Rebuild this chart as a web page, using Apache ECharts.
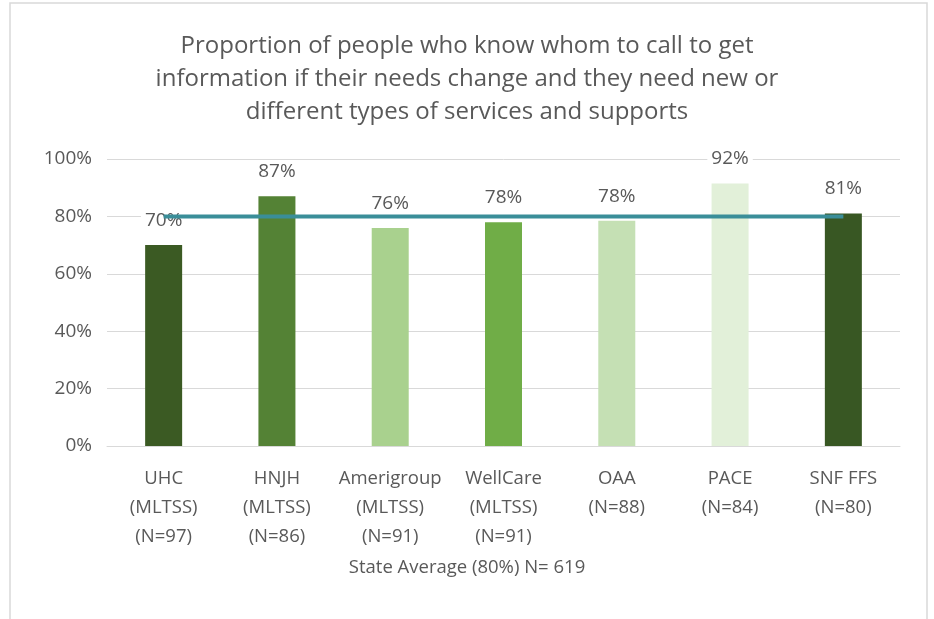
<!DOCTYPE html>
<html><head><meta charset="utf-8">
<script src="https://cdn.jsdelivr.net/npm/echarts@6/dist/echarts.min.js"></script>
<style>html,body{margin:0;padding:0;background:#fff}#c{width:934px;height:619px}</style>
</head><body><div id="c"></div>
<script>
const categories = ['UHC\n(MLTSS)\n(N=97)','HNJH\n(MLTSS)\n(N=86)','Amerigroup\n(MLTSS)\n(N=91)','WellCare\n(MLTSS)\n(N=91)','OAA\n(N=88)','PACE\n(N=84)','SNF FFS\n(N=80)'];
const values = [70, 87, 76, 78, 78.5, 91.5, 81];
const valueLabels = ['70%','87%','76%','78%','78%','92%','81%'];
const stateAverage = [80, 80, 80, 80, 80, 80, 80];
const barColors = ['#3B5A23','#548235','#A9D18E','#70AD47','#C5E0B4','#E2F0D9','#385723'];
const yTicks = [0, 20, 40, 60, 80, 100];

const font = "'Open Sans', sans-serif";
const chart = echarts.init(document.getElementById('c'));
chart.setOption({
  animation: false,
  textStyle: {fontFamily: font},
  graphic: [{type:'rect', shape:{x:10,y:3,width:917,height:640}, style:{fill:'none', stroke:'#d9d9d9', lineWidth:1.5}, silent:true}],
  title: [{
    text: 'Proportion of people who know whom to call to get\ninformation if their needs change and they need new or\ndifferent types of services and supports',
    left: 'center', top: 25,
    textStyle: {fontFamily: font, fontSize: 24, fontWeight: 'normal', color: '#595959', lineHeight: 33}
  }, {
    text: 'State Average (80%) N= 619',
    left: 'center', top: 553,
    textStyle: {fontFamily: font, fontSize: 18.5, fontWeight: 'normal', color: '#595959'}
  }],
  grid: {left: 107, right: 34, top: 159, bottom: 173},
  xAxis: {
    type: 'category', data: categories,
    axisLine: {lineStyle: {color: '#d9d9d9'}}, axisTick: {show: false},
    axisLabel: {color: '#595959', fontSize: 18.5, lineHeight: 29, margin: 18, fontFamily: font, interval: 0}
  },
  yAxis: {
    type: 'value', min: 0, max: 100, interval: 20,
    axisLine: {show: false}, axisTick: {show: false},
    splitLine: {lineStyle: {color: '#d9d9d9'}},
    axisLabel: {color: '#595959', fontSize: 19, margin: 15, fontFamily: font,
      formatter: v => yTicks.includes(v) ? v + '%' : ''}
  },
  series: [
    {
      type: 'bar', barWidth: 37, z: 2,
      data: values.map((v, i) => ({value: v, itemStyle: {color: barColors[i]}})),
      label: {show: true, position: 'top', distance: 15, color: '#595959', fontSize: 19, fontFamily: font,
        backgroundColor: '#fff', padding: [0, 4],
        formatter: p => valueLabels[p.dataIndex]}
    },
    {
      type: 'line', data: stateAverage, z: 10, symbol: 'none',
      lineStyle: {color: '#3A8E99', width: 4}
    }
  ]
});
</script></body></html>
